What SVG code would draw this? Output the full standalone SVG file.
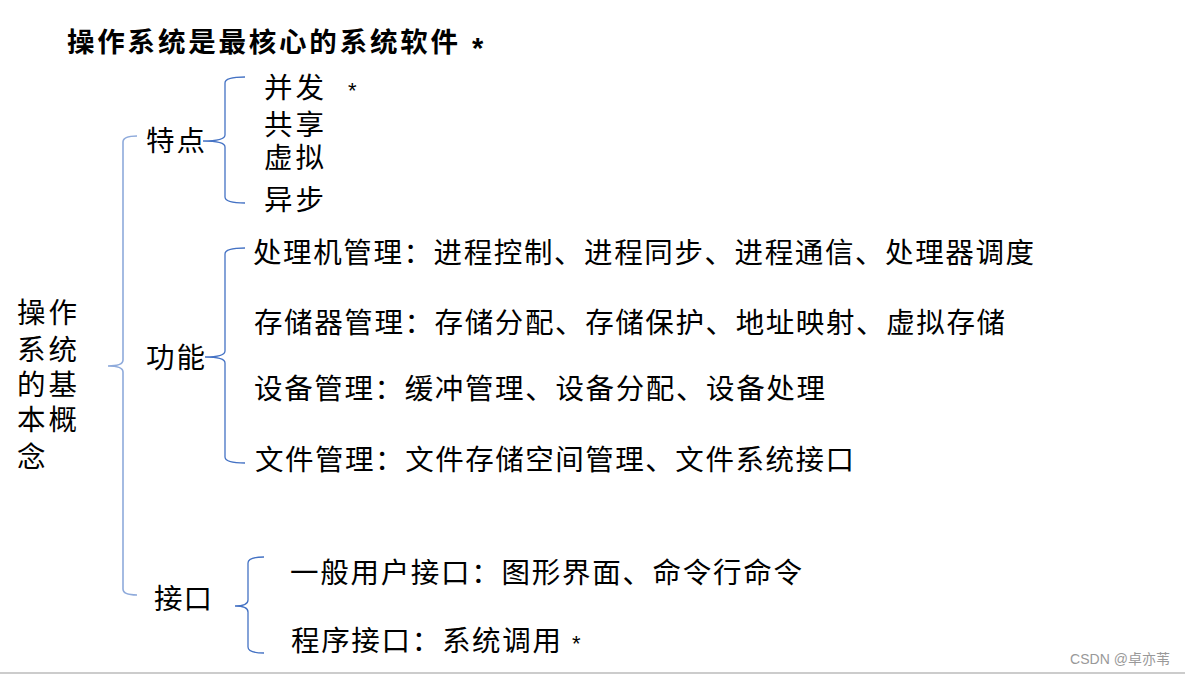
<svg xmlns="http://www.w3.org/2000/svg" width="1185" height="675" viewBox="0 0 1185 675">
<style>
.t{font-family:"Noto Sans CJK SC","Liberation Sans",sans-serif;font-size:28.5px;fill:#000}
.b{font-weight:bold;font-size:27.5px}
.s{font-family:"Liberation Sans",sans-serif;font-size:22px;fill:#000}
.br{fill:none;stroke:#4472C4;stroke-width:1.3}
.brm{fill:none;stroke:#8EAADB;stroke-width:1.6}
</style>
<rect width="1185" height="675" fill="#fff"/>
<g id="title">
<text class="t b" x="67" y="52" textLength="391">操作系统是最核心的系统软件</text>
<text class="s" x="472" y="58" style="font-size:29px;font-weight:bold">*</text>
</g>
<g id="connectors">
<path class="brm" d="M137,136 Q123,136 123,142 L123,360 Q123,366 108,366 Q123,366 123,372 L123,589 Q123,595 137,595"/>
<path class="br" d="M245,77 Q225,77 225,83 L225,135 Q225,141 203,141 Q225,141 225,147 L225,197 Q225,203 245,203"/>
<path class="br" d="M245,248 Q225,248 225,254 L225,351 Q225,357 205,357 Q225,357 225,363 L225,457 Q225,463 245,463"/>
<path class="br" d="M264,557 Q248,557 248,563 L248,600 Q248,606 235,606 Q248,606 248,612 L248,647 Q248,653 264,653"/>
</g>
<g id="root">
<text class="t" x="17" y="323" textLength="60">操作</text>
<text class="t" x="17" y="360" textLength="60">系统</text>
<text class="t" x="17" y="395" textLength="60">的基</text>
<text class="t" x="17" y="430" textLength="60">本概</text>
<text class="t" x="17" y="467">念</text>
</g>
<g id="features">
<text class="t" x="146" y="151" textLength="59">特点</text>
</g>
<g id="feature-items">
<text class="t" x="264" y="98" textLength="60">并发</text>
<text class="s" x="348" y="98">*</text>
<text class="t" x="264" y="135" textLength="60">共享</text>
<text class="t" x="264" y="168" textLength="60">虚拟</text>
<text class="t" x="264" y="210" textLength="60">异步</text>
</g>
<g id="functions">
<text class="t" x="146" y="368" textLength="59">功能</text>
</g>
<g id="function-items">
<text class="t" x="253" y="263" textLength="781">处理机管理：进程控制、进程同步、进程通信、处理器调度</text>
<text class="t" x="254" y="333" textLength="751">存储器管理：存储分配、存储保护、地址映射、虚拟存储</text>
<text class="t" x="254" y="399" textLength="571">设备管理：缓冲管理、设备分配、设备处理</text>
<text class="t" x="255" y="470" textLength="599">文件管理：文件存储空间管理、文件系统接口</text>
</g>
<g id="interface">
<text class="t" x="154" y="609" textLength="58">接口</text>
</g>
<g id="interface-items">
<text class="t" x="290" y="583" textLength="512">一般用户接口：图形界面、命令行命令</text>
<text class="t" x="291" y="651" textLength="270">程序接口：系统调用</text>
<text class="s" x="572" y="651">*</text>
</g>
<text x="1070" y="664" font-family="Liberation Sans,Noto Sans CJK SC,sans-serif" font-size="14" fill="#999" textLength="100">CSDN @卓亦苇</text>
<line x1="0" y1="673" x2="1185" y2="673" stroke="#ccc" stroke-width="2"/>
</svg>
